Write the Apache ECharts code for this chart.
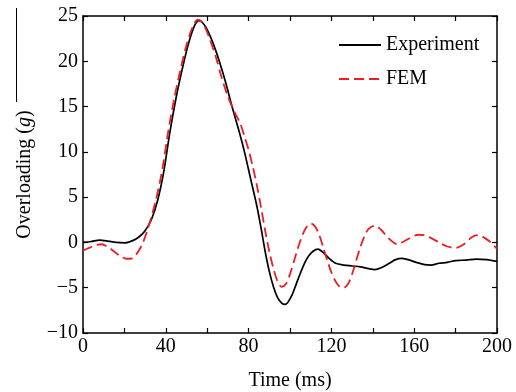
<!DOCTYPE html>
<html>
<head>
<meta charset="utf-8">
<script src="https://cdn.jsdelivr.net/npm/echarts@6/dist/echarts.min.js"></script>
<style>
html,body{margin:0;padding:0;background:#fff;}
#c{width:516px;height:392px;}
</style>
</head>
<body>
<div id="c"></div>
<script>
const expTime  = [0,4,8,12,16,20,24,27,30,33,36,39,42,45,48,51,54,56,58,60,63,66,69,72,75,78,81,84,86,88,90,92,94,96,97.5,99,101,103,105,107,109,111,113.5,116,119,122,126,130,134,138,141,144,148,151,154,157,161,165,168,172,176,180,185,190,195,200];
const expValue = [0,0.1,0.25,0.15,0,-0.05,0.2,0.6,1.3,2.5,4.6,7.8,12.2,16.0,19.2,22.0,24.0,24.5,24.2,23.5,21.9,19.9,17.6,15.0,12.6,10.0,7.0,4.0,1.6,-1.0,-3.2,-4.9,-6.1,-6.7,-6.85,-6.6,-5.8,-4.6,-3.4,-2.3,-1.5,-1.0,-0.75,-1.1,-1.8,-2.3,-2.5,-2.6,-2.7,-2.9,-3.0,-2.8,-2.3,-1.9,-1.75,-1.9,-2.2,-2.45,-2.5,-2.3,-2.2,-2.0,-1.95,-1.85,-1.9,-2.1];
const femTime  = [0,3,6,9,12,15,18,21,23,25,27,29,31,33,35,37,39,41,44,47,50,53,55.5,58,61,64,67,70,73,76,78,80,82,84,86,88,90,92,94,96,98,100,102,104,106,108,110,112,114,116,118,120,122,124,126,128,130,132,134,136,138,141,144,147,150,152,155,158,162,165,168,172,176,180,184,188,191,194,197,200];
const femValue = [-0.9,-0.6,-0.3,-0.2,-0.5,-1.0,-1.5,-1.8,-1.8,-1.5,-0.9,0.0,1.3,2.8,4.5,6.5,9.0,12.0,15.8,19.0,21.8,23.8,24.6,24.2,22.6,20.6,18.2,16.1,14.5,13.1,11.7,10.2,8.4,6.3,3.9,1.3,-1.0,-2.9,-4.3,-4.9,-4.6,-3.5,-2.0,-0.5,0.8,1.7,2.1,1.8,0.9,-0.5,-2.0,-3.3,-4.3,-4.9,-5.0,-4.6,-3.5,-2.0,-0.5,0.7,1.5,1.85,1.4,0.6,0.0,-0.2,0.1,0.5,0.85,0.8,0.5,0.0,-0.45,-0.6,-0.2,0.6,0.8,0.5,0.0,-0.7];
const xTicks = [0,40,80,120,160,200];
const yTicks = [-10,-5,0,5,10,15,20,25];

const FONT = '"Liberation Serif","Times New Roman",serif';
const FS = 20;
const expData = expTime.map((t,i)=>[t,expValue[i]]);
const femData = femTime.map((t,i)=>[t,femValue[i]]);

const axisLine = {show:true, onZero:false, lineStyle:{color:'#000', width:1.5}};
const tick = {show:true, inside:true, length:5, lineStyle:{color:'#000', width:1.2}};

const chart = echarts.init(document.getElementById('c'), null, {renderer:'canvas'});
chart.setOption({
  animation:false,
  backgroundColor:'#fff',
  grid:{left:83, right:19, top:16, bottom:59, show:false, containLabel:false, outerBoundsMode:'none'},
  legend:{
    left:333, top:30, orient:'vertical', itemWidth:42, itemHeight:14, itemGap:14,
    itemStyle:{opacity:0},
    textStyle:{fontFamily:FONT, fontSize:FS, color:'#000'},
    data:[{name:'Experiment'},{name:'FEM'}]
  },
  xAxis:[
    {type:'value', min:0, max:200, interval:20, position:'bottom',
     axisLine:axisLine, axisTick:tick, splitLine:{show:false},
     axisLabel:{margin:4, fontFamily:FONT, fontSize:FS, color:'#000',
       formatter:v=> xTicks.indexOf(v)>=0 ? String(v) : ''},
     name:'Time (ms)', nameLocation:'middle', nameGap:38,
     nameTextStyle:{fontFamily:FONT, fontSize:FS, color:'#000'}},
    {type:'value', min:0, max:200, interval:20, position:'top',
     axisLine:axisLine, axisTick:tick, splitLine:{show:false}, axisLabel:{show:false}}
  ],
  yAxis:[
    {type:'value', min:-10, max:25, interval:5, position:'left',
     axisLine:axisLine, axisTick:tick, splitLine:{show:false},
     axisLabel:{margin:5, fontFamily:FONT, fontSize:FS, color:'#000',
       formatter:v=> yTicks.indexOf(v)>=0 ? String(v).replace('-','\u2212') : ''},
     name:'{a|Overloading (}{b|g}{a|)}', nameLocation:'middle', nameGap:48, nameRotate:90,
     nameTextStyle:{rich:{a:{fontFamily:FONT, fontSize:FS, color:'#000'},
                          b:{fontFamily:FONT, fontSize:FS, color:'#000', fontStyle:'italic'}}}},
    {type:'value', min:-10, max:25, interval:5, position:'right',
     axisLine:axisLine, axisTick:tick, splitLine:{show:false}, axisLabel:{show:false}}
  ],
  series:[
    {name:'Experiment', type:'line', data:expData, smooth:0.3, symbol:'none',
     lineStyle:{color:'#000', width:1.7}, itemStyle:{color:'#000'}, z:2},
    {name:'FEM', type:'line', data:femData, smooth:0.3, symbol:'none',
     lineStyle:{color:'#ee1c25', width:1.8, type:[10,5]}, itemStyle:{color:'#ee1c25'}, z:3}
  ],
  graphic:[
    {type:'line', shape:{x1:16.5, y1:8, x2:16.5, y2:102}, style:{stroke:'#000', lineWidth:1}}
  ]
});
</script>
</body>
</html>
